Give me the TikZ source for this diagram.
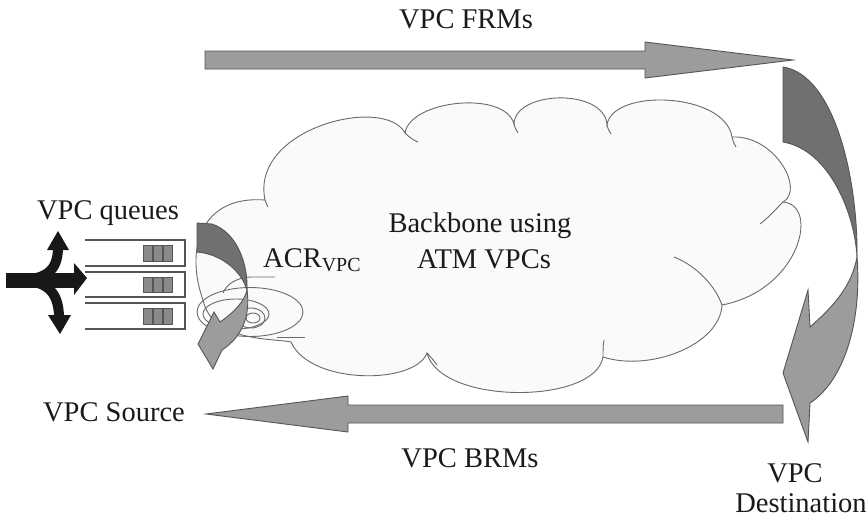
\documentclass[tikz,border=0pt]{standalone}
\usepackage{fontspec}
\setmainfont{Liberation Serif}
\definecolor{arrowgray}{HTML}{9C9C9C}
\definecolor{edgegray}{HTML}{555555}
\definecolor{ribbondark}{HTML}{707070}
\definecolor{cloudedge}{HTML}{6A6A6A}
\definecolor{cloudfill}{HTML}{FAFAFA}
\definecolor{textc}{HTML}{1A1A1A}
\definecolor{forkc}{HTML}{181818}
\definecolor{cellc}{HTML}{8A8A8A}
\begin{document}
\begin{tikzpicture}[x=1pt,y=-1pt,
  lbl/.style={font=\fontsize{28.5}{34}\selectfont, text=textc, inner sep=0pt, anchor=base},
  blockarrow/.style={fill=arrowgray, draw=edgegray, line width=0.9pt, line join=miter},
  ribbonback/.style={fill=ribbondark, draw=edgegray, line width=0.9pt},
  ribbonfront/.style={fill=arrowgray, draw=edgegray, line width=0.9pt, line join=miter},
  cloudshape/.style={fill=cloudfill, draw=cloudedge, line width=0.9pt},
  cloudcrease/.style={draw=cloudedge, line width=0.9pt},
  spiral/.style={draw=cloudedge, line width=0.9pt},
  queuebox/.style={draw=edgegray, line width=1.2pt},
  cellbox/.style={fill=cellc, draw=edgegray, line width=0.6pt},
  forkline/.style={draw=forkc, line cap=butt}]
\useasboundingbox (0,0) rectangle (866,523);
\fill[white] (0,0) rectangle (866,523);

% cloud
\path[cloudshape] (265,200)
 .. controls (250,128) and (385,95) .. (405,133)
 .. controls (410,100) and (505,90) .. (514,124)
 .. controls (515,90) and (605,88) .. (607,125)
 .. controls (612,88) and (725,92) .. (732,137)
 .. controls (775,135) and (805,190) .. (783,202)
 .. controls (820,205) and (800,290) .. (722,305)
 .. controls (720,345) and (650,372) .. (603,357)
 .. controls (595,405) and (440,405) .. (427,353)
 .. controls (415,385) and (310,385) .. (291,342)
 .. controls (272,338) and (212,342) .. (203,300)
 .. controls (185,250) and (200,195) .. (265,200) -- cycle;
% creases
\draw[cloudcrease] (405,133) .. controls (409,137) and (413,140) .. (418,142);
\draw[cloudcrease] (514,124) .. controls (515,128) and (516,130) .. (518,133);
\draw[cloudcrease] (607,125) .. controls (608,129) and (609,131) .. (611,134);
\draw[cloudcrease] (732,137) .. controls (733,141) and (734,144) .. (736,147);
\draw[cloudcrease] (783,202) .. controls (775,210) and (768,218) .. (760,224);
\draw[cloudcrease] (722,305) .. controls (715,285) and (695,265) .. (674,257);
\draw[cloudcrease] (603,357) .. controls (603,350) and (603,345) .. (604,340);
\draw[cloudcrease] (427,353) .. controls (431,357) and (434,361) .. (437,365);
\draw[cloudcrease] (265,200) .. controls (266,203) and (267,205) .. (268,207);

% spiral near ACR
\draw[spiral] (250,312) ellipse (53 and 24.5);
\draw[spiral] (236,314) ellipse (33 and 15);
\draw[spiral] (251,318) ellipse (14 and 10);
\draw[spiral] (253,318) ellipse (7 and 5);
\draw[spiral] (223,293) .. controls (226,285) and (236,277) .. (252,277) -- (275,277);
\draw[spiral] (277,337) -- (305,337);

% queues
\foreach \t/\b in {240/266, 272/297, 303/329}{
  \draw[queuebox] (85,\t) -- (185,\t) -- (185,\b) -- (85,\b);
  \foreach \cx in {143,153,163}{
    \path[cellbox] (\cx,\t+5) rectangle (\cx+9,\b-5);
  }
}

% fork arrows
\draw[forkline, line width=15pt] (6,280) -- (76,280);
\draw[forkline, line width=10pt] (16,280) .. controls (45,280) and (58,272) .. (58,247);
\draw[forkline, line width=10pt] (16,280) .. controls (45,280) and (59,290) .. (59,318);
\fill[forkc] (47,250) -- (58,231) -- (69,250) -- cycle;
\fill[forkc] (48,315) -- (60,334) -- (71,315) -- cycle;
\fill[forkc] (74,263) -- (87,278) -- (74,295) -- cycle;

% FRM arrow
\path[blockarrow] (205,51) -- (645,51) -- (645,42) -- (793,60) -- (645,78) -- (645,69) -- (205,69) -- cycle;
% BRM arrow
\path[blockarrow] (783,405) -- (348,405) -- (348,396) -- (206,414) -- (348,432) -- (348,423) -- (783,423) -- cycle;

% right curved arrow
\path[ribbonback] (783,67) .. controls (835,75) and (858,180) .. (857,257)
  .. controls (855,215) and (830,150) .. (783,142) -- cycle;
\path[ribbonfront] (857,257) .. controls (862,320) and (845,380) .. (810,403)
  -- (808,442) -- (783,373) -- (808,290) -- (810,327)
  .. controls (835,305) and (852,285) .. (857,257) -- cycle;

% left curved arrow
\path[ribbonback] (197,223) -- (212,224) .. controls (236,232) and (248,262) .. (247,290)
  .. controls (242,272) and (222,254) .. (197,252) -- cycle;
\path[ribbonfront] (247,290) .. controls (250,312) and (245,335) .. (222,350)
  -- (213,369) -- (198,344) -- (214,312) -- (220,322)
  .. controls (235,312) and (245,300) .. (247,290) -- cycle;

% labels
\node[lbl] (frmlabel) at (466,28) {VPC FRMs};
\node[lbl] (queues) at (108,219) {VPC queues};
\node[lbl, anchor=base west] (acr) at (263,267) {ACR\textsubscript{VPC}};
\node[lbl] (backbone) at (480,232) {Backbone using};
\node[lbl] (atm) at (484,268) {ATM VPCs};
\node[lbl] (source) at (114,421) {VPC Source};
\node[lbl] (brmlabel) at (470,467) {VPC BRMs};
\node[lbl] (dest1) at (795,482) {VPC};
\node[lbl] (dest2) at (801,512) {Destination};
\end{tikzpicture}
\end{document}
